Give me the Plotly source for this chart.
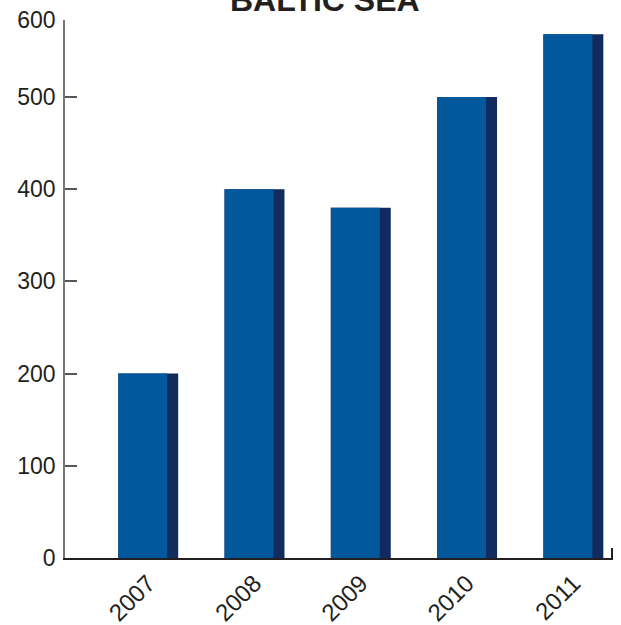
import plotly.graph_objects as go

years = ["2007", "2008", "2009", "2010", "2011"]
values = [200, 400, 380, 500, 568]
y_tick_labels = ["0", "100", "200", "300", "400", "500", "600"]

Y_TOP = 583.5  # top of the drawn axis (labelled 600 in the original)
tick_vals = [0, 100, 200, 300, 400, 500, Y_TOP]

MAIN = "#03579B"
SIDE = "#112B5E"
FULL_W = 0.564
MAIN_W = 0.461

fig = go.Figure()
fig.add_trace(go.Bar(
    x=years, y=values, width=FULL_W, offset=-FULL_W / 2,
    marker=dict(color=SIDE, line=dict(width=0)), hoverinfo="skip", showlegend=False,
))
fig.add_trace(go.Bar(
    x=years, y=values, width=MAIN_W, offset=-FULL_W / 2,
    marker=dict(color=MAIN, line=dict(width=0)), showlegend=False,
))
# invisible helper trace for the end ticks of the base line
fig.add_trace(go.Scatter(x=[0, 1], y=[0, 0], xaxis="x2", yaxis="y", mode="markers",
                         marker=dict(opacity=0), hoverinfo="skip", showlegend=False))

fig.update_layout(
    width=621, height=625,
    barmode="overlay",
    plot_bgcolor="white", paper_bgcolor="white",
    margin=dict(l=65, r=8, t=20, b=67, autoexpand=False),
    font=dict(family="Liberation Sans, Arial, sans-serif", size=23, color="#231F20"),
    annotations=[dict(text="<b>BALTIC SEA</b>", xref="paper", yref="paper",
                      x=(325 - 65) / 548, y=1, xanchor="center", yanchor="bottom",
                      yshift=0, showarrow=False,
                      font=dict(size=32, color="#231F20"))],
    xaxis2=dict(overlaying="x", anchor="y", side="bottom", range=[-0.0008, 1.002],
                tickvals=[0, 1],
                ticks="inside", ticklen=10, tickwidth=1.5, tickcolor="#231F20",
                showticklabels=False, showgrid=False, zeroline=False,
                showline=False, automargin=False),
)
fig.layout.xaxis.update(
    type="category", range=[-0.783, 4.373], automargin=False,
    tickangle=-45, showline=True, linecolor="#231F20", linewidth=1.5,
    ticks="", showgrid=False, zeroline=False, tickfont=dict(size=24),
)
fig.update_yaxes(
    range=[0, Y_TOP], tickvals=tick_vals, ticktext=y_tick_labels, automargin=False,
    showline=True, linecolor="#777777", linewidth=1.5,
    ticks="inside", ticklen=12, tickcolor="#555555", tickwidth=1.5,
    showgrid=False, zeroline=False, ticklabelstandoff=3, tickfont=dict(size=23),
)

fig.write_html("out.html", config={"displayModeBar": False},
               post_script="document.body.style.margin='0';")
